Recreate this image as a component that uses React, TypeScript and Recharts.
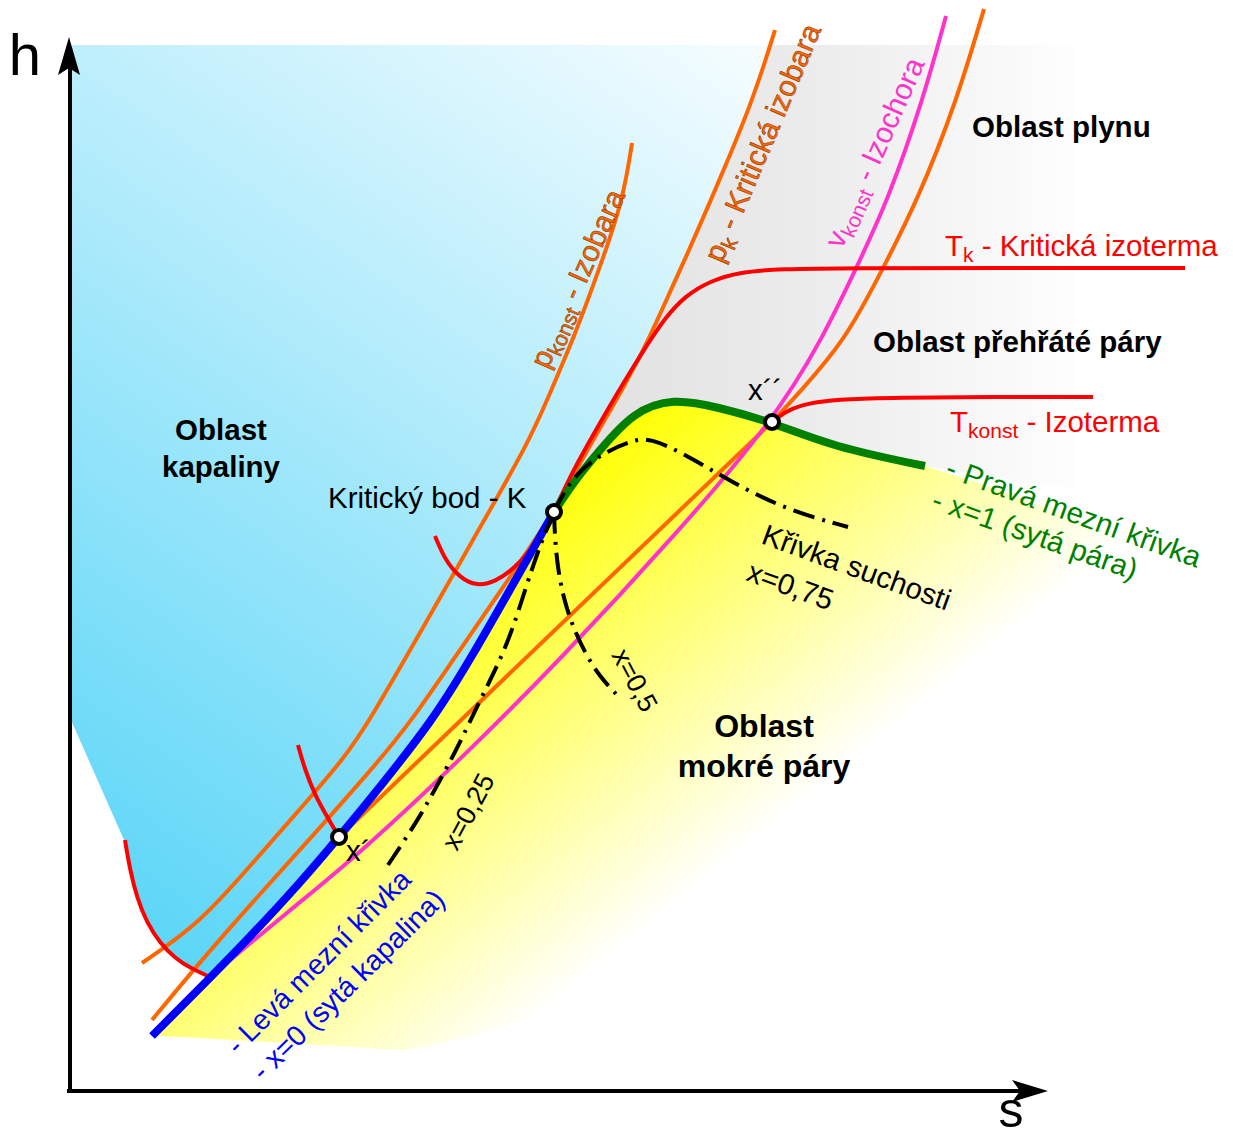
import { ComposedChart, XAxis, YAxis, Line, Area, Scatter } from 'recharts';

const W = 1233;
const H = 1138;
const FONT = '"Liberation Sans", Arial, Helvetica, sans-serif';

// h-s diagram in plot units: x grows with entropy, y is measured downward from the top
const axisV = [{ x: 70, y: 1093 }, { x: 70, y: 66 }];
const axisH = [{ x: 67, y: 1091 }, { x: 1022, y: 1091 }];
const arrowUp = [{ x: 69, y: 37 }];
const arrowRight = [{ x: 1048, y: 1091 }];

// liquid region: top edge, left edge, low isotherm, saturated liquid line, critical isobar
const liquidBand = [
  { x: 71, band: [45, 720] },
  { x: 124, band: [45, 840] },
  { x: 130, band: [45, 870] },
  { x: 137, band: [45, 898] },
  { x: 147, band: [45, 923] },
  { x: 160, band: [45, 943] },
  { x: 175, band: [45, 958] },
  { x: 190, band: [45, 968] },
  { x: 210, band: [45, 978] },
  { x: 250, band: [45, 937] },
  { x: 300, band: [45, 883] },
  { x: 339, band: [45, 837] },
  { x: 380, band: [45, 787] },
  { x: 433, band: [45, 720] },
  { x: 470, band: [45, 660] },
  { x: 520, band: [45, 572] },
  { x: 554, band: [45, 512] },
  { x: 575, band: [45, 472] },
  { x: 600, band: [45, 428] },
  { x: 625, band: [45, 385] },
  { x: 647, band: [45, 343] },
  { x: 670, band: [45, 292] },
  { x: 690, band: [45, 248] },
  { x: 710, band: [45, 202] },
  { x: 730, band: [45, 155] },
  { x: 750, band: [45, 106] },
  { x: 768, band: [45, 45] },
];

// gas / superheated region between the critical isobar and the saturated vapour line
const gasBand = [
  { x: 554, band: [512, 512] },
  { x: 575, band: [472, 480] },
  { x: 600, band: [428, 450] },
  { x: 625, band: [385, 420] },
  { x: 647, band: [343, 405] },
  { x: 670, band: [292, 398] },
  { x: 690, band: [248, 399] },
  { x: 710, band: [202, 404] },
  { x: 730, band: [155, 410] },
  { x: 750, band: [106, 415] },
  { x: 768, band: [45, 420] },
  { x: 833, band: [45, 447] },
  { x: 925, band: [45, 466] },
  { x: 1000, band: [45, 478] },
  { x: 1075, band: [45, 488] },
];

// wet steam region under the saturation dome
const wetBand = [
  { x: 157, band: [1031, 1036] },
  { x: 200, band: [988, 1038] },
  { x: 250, band: [937, 1041] },
  { x: 300, band: [883, 1044] },
  { x: 339, band: [837, 1046] },
  { x: 380, band: [787, 1049] },
  { x: 405, band: [755, 1050] },
  { x: 433, band: [720, 1045] },
  { x: 470, band: [660, 1036] },
  { x: 520, band: [572, 1022] },
  { x: 554, band: [512, 1012] },
  { x: 575, band: [480, 1006] },
  { x: 600, band: [450, 1000] },
  { x: 633, band: [412, 1000] },
  { x: 673, band: [398, 1000] },
  { x: 717, band: [407, 1000] },
  { x: 772, band: [422, 1000] },
  { x: 833, band: [447, 1000] },
  { x: 925, band: [466, 1000] },
  { x: 1000, band: [490, 1000] },
  { x: 1100, band: [528, 1000] },
  { x: 1200, band: [565, 1000] },
];

const isobarConst = [
  { x: 142, y: 963 }, { x: 200, y: 923 }, { x: 250, y: 866 }, { x: 300, y: 809 },
  { x: 343, y: 760 }, { x: 370, y: 720 }, { x: 420, y: 633 }, { x: 470, y: 545 },
  { x: 530, y: 440 }, { x: 547, y: 400 }, { x: 575, y: 335 }, { x: 600, y: 267 },
  { x: 623, y: 200 }, { x: 632, y: 143 },
];

const isobarCritical = [
  { x: 152, y: 1020 }, { x: 200, y: 962 }, { x: 250, y: 905 }, { x: 300, y: 850 },
  { x: 380, y: 760 }, { x: 412, y: 720 }, { x: 453, y: 660 }, { x: 500, y: 592 },
  { x: 554, y: 512 }, { x: 575, y: 472 }, { x: 600, y: 428 }, { x: 625, y: 385 },
  { x: 647, y: 343 }, { x: 670, y: 292 }, { x: 690, y: 248 }, { x: 710, y: 202 },
  { x: 730, y: 155 }, { x: 750, y: 106 }, { x: 765, y: 62 }, { x: 775, y: 30 },
];

const isobarWet = [{ x: 339, y: 837 }, { x: 772, y: 422 }];
const isobarSteam = [
  { x: 772, y: 422 }, { x: 800, y: 392 }, { x: 845, y: 340 }, { x: 877, y: 280 },
  { x: 918, y: 200 }, { x: 957, y: 100 }, { x: 984, y: 9 },
];

const isochore = [
  { x: 218, y: 970 }, { x: 300, y: 902 }, { x: 360, y: 853 }, { x: 460, y: 760 },
  { x: 560, y: 660 }, { x: 680, y: 530 }, { x: 772, y: 422 }, { x: 822, y: 340 },
  { x: 860, y: 260 }, { x: 888, y: 200 }, { x: 923, y: 100 }, { x: 946, y: 16 },
];

const isothermCritical = [
  { x: 435, y: 536 }, { x: 445, y: 560 }, { x: 460, y: 578 }, { x: 477, y: 586 },
  { x: 495, y: 582 }, { x: 515, y: 568 }, { x: 535, y: 545 }, { x: 554, y: 512 },
  { x: 572, y: 472 }, { x: 597, y: 428 }, { x: 622, y: 385 }, { x: 647, y: 345 },
  { x: 665, y: 318 }, { x: 685, y: 296 }, { x: 710, y: 281 }, { x: 740, y: 272 },
  { x: 780, y: 269 }, { x: 850, y: 268 }, { x: 1000, y: 268 }, { x: 1185, y: 268 },
];

const isothermLiquid = [
  { x: 298, y: 745 }, { x: 305, y: 770 }, { x: 315, y: 795 }, { x: 326, y: 815 }, { x: 339, y: 837 },
];
const isothermSteam = [
  { x: 772, y: 422 }, { x: 785, y: 412 }, { x: 800, y: 405 }, { x: 830, y: 400 },
  { x: 870, y: 398 }, { x: 950, y: 397 }, { x: 1093, y: 397 },
];
const isothermLow = [
  { x: 125, y: 840 }, { x: 130, y: 870 }, { x: 137, y: 898 }, { x: 147, y: 923 },
  { x: 160, y: 943 }, { x: 175, y: 958 }, { x: 190, y: 968 }, { x: 210, y: 977 },
];

const liquidLine = [
  { x: 152, y: 1036 }, { x: 200, y: 988 }, { x: 250, y: 937 }, { x: 300, y: 883 },
  { x: 339, y: 837 }, { x: 380, y: 787 }, { x: 433, y: 720 }, { x: 470, y: 660 },
  { x: 520, y: 572 }, { x: 554, y: 512 },
];

const vapourLine = [
  { x: 554, y: 512 }, { x: 575, y: 480 }, { x: 600, y: 450 }, { x: 633, y: 412 },
  { x: 673, y: 398 }, { x: 717, y: 407 }, { x: 772, y: 422 }, { x: 833, y: 447 },
  { x: 925, y: 466 },
];

const quality25 = [
  { x: 388, y: 865 }, { x: 420, y: 817 }, { x: 440, y: 780 }, { x: 458, y: 747 },
  { x: 480, y: 700 }, { x: 507, y: 647 }, { x: 525, y: 590 }, { x: 540, y: 545 }, { x: 554, y: 512 },
];
const quality50 = [
  { x: 554, y: 512 }, { x: 555, y: 540 }, { x: 558, y: 570 }, { x: 564, y: 600 },
  { x: 573, y: 627 }, { x: 585, y: 653 }, { x: 600, y: 677 }, { x: 617, y: 695 },
];
const quality75 = [
  { x: 554, y: 512 }, { x: 565, y: 490 }, { x: 580, y: 470 }, { x: 605, y: 452 },
  { x: 633, y: 440 }, { x: 650, y: 438 }, { x: 683, y: 453 }, { x: 733, y: 483 },
  { x: 787, y: 510 }, { x: 848, y: 527 },
];

const keyPoints = [
  { x: 554, y: 512 },
  { x: 339, y: 837 },
  { x: 772, y: 422 },
];

const ORANGE = '#ff6600';
const MAGENTA = '#ff33cc';
const RED = '#ff0000';
const GREEN = '#008000';
const BLUE = '#0000ff';
const DASH_DOT = '22 8 3 8';

// text layer, laid over the plot in the same pixel frame
function Labels() {
  const reg = { fontFamily: FONT, fontSize: 29.5 };
  const bold = { fontFamily: FONT, fontSize: 29.5, fontWeight: 700 };
  const orangeText = { ...reg, fill: ORANGE, stroke: '#7a3000', strokeWidth: 0.5 };
  return (
    <svg width={W} height={H} style={{ position: 'absolute', left: 0, top: 0, pointerEvents: 'none' }}>
      <text x={25} y={75} fontFamily={FONT} fontSize={58} textAnchor="middle">h</text>
      <text x={1011} y={1127} fontFamily={FONT} fontSize={50} textAnchor="middle">s</text>

      <text {...bold} x={221} y={440} textAnchor="middle">Oblast</text>
      <text {...bold} x={221} y={477} textAnchor="middle">kapaliny</text>
      <text {...bold} fontSize={32} x={764} y={737} textAnchor="middle">Oblast</text>
      <text {...bold} fontSize={32} x={764} y={777} textAnchor="middle">mokré páry</text>
      <text {...bold} x={972} y={137}>Oblast plynu</text>
      <text {...bold} x={873} y={352}>Oblast přehřáté páry</text>

      <text {...reg} x={328} y={508}>Kritický bod - K</text>
      <text {...reg} x={346} y={861}>x´</text>
      <text {...reg} x={748} y={400}>x´´</text>

      <text {...reg} fill={RED} x={945} y={256}>
        T<tspan fontSize={21} dy={6}>k</tspan>
        <tspan dy={-6}> - Kritická izoterma</tspan>
      </text>
      <text {...reg} fill={RED} x={950} y={432}>
        T<tspan fontSize={21} dy={6}>konst</tspan>
        <tspan dy={-6}> - Izoterma</tspan>
      </text>

      <text {...orangeText} x={548} y={370} transform="rotate(-66 548 370)">
        p<tspan fontSize={21} dy={6}>konst</tspan>
        <tspan dy={-6}> - Izobara</tspan>
      </text>
      <text {...orangeText} x={722} y={264} transform="rotate(-67 722 264)">
        p<tspan fontSize={21} dy={6}>k</tspan>
        <tspan dy={-6}> - Kritická izobara</tspan>
      </text>
      <text {...reg} fill={MAGENTA} x={842} y={250} transform="rotate(-66 842 250)">
        v<tspan fontSize={21} dy={6}>konst</tspan>
        <tspan dy={-6}> - Izochora</tspan>
      </text>

      <text {...reg} fill={GREEN} x={944} y={476} transform="rotate(20 944 476)">- Pravá mezní křivka</text>
      <text {...reg} fill={GREEN} x={930} y={508} transform="rotate(19.5 930 508)">- x=1 (sytá pára)</text>

      <text {...reg} x={760} y={543} transform="rotate(20 760 543)">Křivka suchosti</text>
      <text {...reg} x={745} y={580} transform="rotate(20 745 580)">x=0,75</text>
      <text {...reg} fontSize={27} x={611} y={655} transform="rotate(62 611 655)">x=0,5</text>
      <text {...reg} fontSize={27} x={457} y={852} transform="rotate(-62 457 852)">x=0,25</text>

      <text {...reg} fontSize={28.5} fill={BLUE} x={238} y={1056} transform="rotate(-45 238 1056)">- Levá mezní křivka</text>
      <text {...reg} fontSize={28.5} fill={BLUE} x={263} y={1082} transform="rotate(-44.5 263 1082)">- x=0 (sytá kapalina)</text>
    </svg>
  );
}

const curve = (data: { x: number; y: number }[], stroke: string, width: number, dash?: string, type: 'basis' | 'linear' = 'basis') => (
  <Line
    data={data}
    dataKey="y"
    type={type}
    stroke={stroke}
    strokeWidth={width}
    strokeDasharray={dash}
    dot={false}
    activeDot={false}
    legendType="none"
    isAnimationActive={false}
  />
);

export default function App() {
  return (
    <div style={{ position: 'absolute', left: 0, top: 0, width: W, height: H, background: '#fff' }}>
      <ComposedChart width={W} height={H} margin={{ top: 0, right: 0, bottom: 0, left: 0 }}>
        <defs>
          <linearGradient id="liquidFill" gradientUnits="userSpaceOnUse" x1={120} y1={960} x2={760} y2={40}>
            <stop offset="0" stopColor="#58d5f7" />
            <stop offset="1" stopColor="#f6fdff" />
          </linearGradient>
          <linearGradient id="gasFill" gradientUnits="userSpaceOnUse" x1={560} y1={0} x2={1075} y2={0}>
            <stop offset="0" stopColor="#e0e0e0" />
            <stop offset="0.5" stopColor="#ececec" />
            <stop offset="1" stopColor="#fefefe" />
          </linearGradient>
          <linearGradient id="wetFill" gradientUnits="userSpaceOnUse" x1={520} y1={500} x2={780} y2={820}>
            <stop offset="0" stopColor="#ffff00" />
            <stop offset="1" stopColor="#ffffff" />
          </linearGradient>
        </defs>
        <XAxis type="number" dataKey="x" domain={[0, W]} allowDataOverflow hide />
        <YAxis type="number" domain={[0, H]} reversed allowDataOverflow hide />

        <Area data={liquidBand} dataKey="band" type="linear" stroke="none" fill="url(#liquidFill)" fillOpacity={1} dot={false} activeDot={false} isAnimationActive={false} />
        <Area data={gasBand} dataKey="band" type="linear" stroke="none" fill="url(#gasFill)" fillOpacity={1} dot={false} activeDot={false} isAnimationActive={false} />
        <Area data={wetBand} dataKey="band" type="linear" stroke="none" fill="url(#wetFill)" fillOpacity={1} dot={false} activeDot={false} isAnimationActive={false} />

        {curve(axisV, '#000', 4, undefined, 'linear')}
        {curve(axisH, '#000', 4, undefined, 'linear')}

        {curve(isobarConst, ORANGE, 4)}
        {curve(isobarCritical, ORANGE, 4)}
        {curve(isobarWet, ORANGE, 4, undefined, 'linear')}
        {curve(isobarSteam, ORANGE, 4)}
        {curve(isochore, MAGENTA, 4)}
        {curve(isothermLow, RED, 4)}
        {curve(isothermLiquid, RED, 4)}
        {curve(isothermSteam, RED, 4)}
        {curve(isothermCritical, RED, 4)}
        {curve(vapourLine, GREEN, 8)}
        {curve(liquidLine, BLUE, 8)}
        {curve(quality25, '#000', 4, DASH_DOT)}
        {curve(quality50, '#000', 4, DASH_DOT)}
        {curve(quality75, '#000', 4, DASH_DOT)}

        <Scatter
          data={arrowUp}
          dataKey="y"
          isAnimationActive={false}
          shape={(p: any) => <path d={`M${p.cx},${p.cy} l11,38 l-11,-7 l-11,7 Z`} fill="#000" />}
        />
        <Scatter
          data={arrowRight}
          dataKey="y"
          isAnimationActive={false}
          shape={(p: any) => <path d={`M${p.cx},${p.cy} l-36,-11 l8,11 l-8,11 Z`} fill="#000" />}
        />
        <Scatter
          data={keyPoints}
          dataKey="y"
          isAnimationActive={false}
          shape={(p: any) => <circle cx={p.cx} cy={p.cy} r={7} fill="#fff" stroke="#000" strokeWidth={4} />}
        />
      </ComposedChart>
      <Labels />
    </div>
  );
}
